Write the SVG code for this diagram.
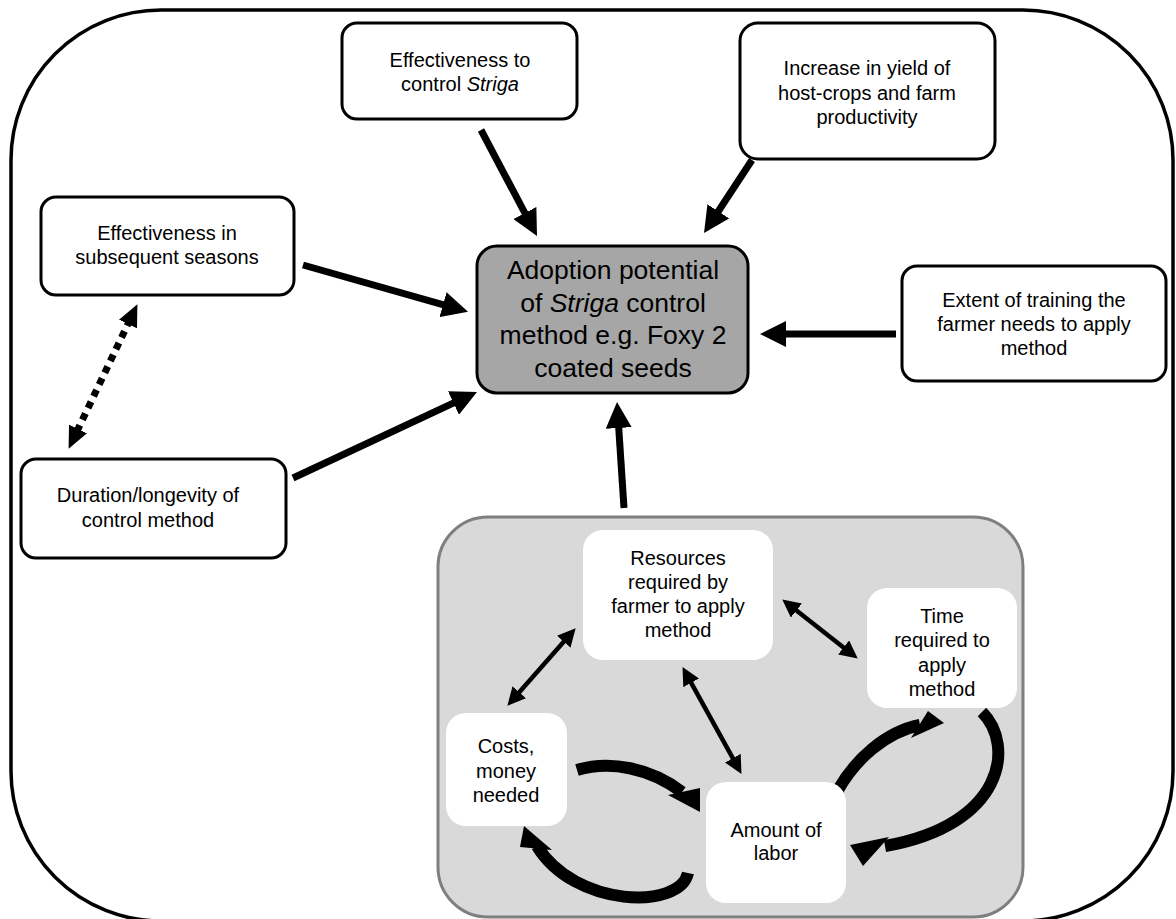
<svg xmlns="http://www.w3.org/2000/svg" width="1176" height="919" viewBox="0 0 1176 919">
<defs>
<marker id="ah" viewBox="0 0 26 26" markerWidth="26" markerHeight="26" refX="8" refY="13" orient="auto-start-reverse" markerUnits="userSpaceOnUse"><path d="M0,0 L26,13 L0,26 z" fill="#000"/></marker>
<marker id="ad" viewBox="0 0 22 20" markerWidth="22" markerHeight="20" refX="5" refY="10" orient="auto-start-reverse" markerUnits="userSpaceOnUse"><path d="M0,0 L22,10 L0,20 z" fill="#000"/></marker>
<marker id="as" viewBox="0 0 18 18" markerWidth="18" markerHeight="18" refX="6" refY="9" orient="auto-start-reverse" markerUnits="userSpaceOnUse"><path d="M0,0 L18,9 L0,18 z" fill="#000"/></marker>
<style>
.box{fill:#fff;stroke:#000;stroke-width:3}
.ibox{fill:#fff;stroke:none}
.t{font-family:"Liberation Sans",Arial,sans-serif;font-size:20px;fill:#000;text-anchor:middle}
.tc{font-family:"Liberation Sans",Arial,sans-serif;font-size:26.5px;fill:#000;text-anchor:middle}
.main{stroke:#000;stroke-width:7;fill:none;marker-end:url(#ah)}
.dual{stroke:#000;stroke-width:4.5;fill:none;marker-start:url(#as);marker-end:url(#as)}
.curve{stroke:#000;stroke-width:12;fill:none}
</style>
</defs>
<rect id="frame" x="11" y="10" width="1162" height="911" rx="150" fill="#fff" stroke="#000" stroke-width="3.5"/>
<rect id="panel" x="438" y="517" width="585" height="400" rx="50" fill="#d9d9d9" stroke="#7f7f7f" stroke-width="3"/>
<g id="connectors">
<line class="main" x1="481" y1="130" x2="528.6" y2="220.1"/>
<line class="main" x1="752" y1="160" x2="713.9" y2="218"/>
<line class="main" x1="303" y1="265" x2="450.7" y2="306.9"/>
<line class="main" x1="293" y1="478" x2="460.7" y2="399.6"/>
<line class="main" x1="896" y1="334" x2="778" y2="334"/>
<line class="main" x1="624" y1="508" x2="618.2" y2="420"/>
<line x1="130.1" y1="319.5" x2="75.9" y2="433.5" stroke="#000" stroke-width="7" stroke-dasharray="7 6" fill="none" marker-start="url(#ad)" marker-end="url(#ad)"/>
<line class="dual" x1="567.7" y1="637.3" x2="515.3" y2="696.7"/>
<line class="dual" x1="688.3" y1="677.6" x2="735.7" y2="763.4"/>
<line class="dual" x1="791.7" y1="606.8" x2="848.3" y2="651.2"/>
<path class="curve" d="M577,770 C610,760 650,768 682,792"/>
<polygon points="668,795 700,788 700,812" fill="#000"/>
<path class="curve" d="M688,873 C680,910 575,908 537,846"/>
<polygon points="524,826 520,847 552,850" fill="#000"/>
<path class="curve" d="M838,790 C855,760 885,732 920,725"/>
<polygon points="928,711 944,723 911,738" fill="#000"/>
<path class="curve" d="M982,712 C1015,745 1005,825 885,846"/>
<polygon points="850,845 889,837 863,866" fill="#000"/>
</g>
<g id="n-control">
<rect class="box" x="342" y="23" width="235" height="96" rx="15"/>
<text class="t" x="460" y="67">Effectiveness to</text>
<text class="t" x="460" y="91">control <tspan font-style="italic">Striga</tspan></text>
</g>
<g id="n-yield">
<rect class="box" x="740" y="23" width="255" height="136" rx="18"/>
<text class="t" x="867" y="75">Increase in yield of</text>
<text class="t" x="867" y="100">host-crops and farm</text>
<text class="t" x="867" y="124">productivity</text>
</g>
<g id="n-seasons">
<rect class="box" x="41" y="197" width="253" height="98" rx="15"/>
<text class="t" x="167" y="240">Effectiveness in</text>
<text class="t" x="167" y="264">subsequent seasons</text>
</g>
<g id="n-training">
<rect class="box" x="902" y="266" width="264" height="115" rx="15"/>
<text class="t" x="1034" y="307">Extent of training the</text>
<text class="t" x="1034" y="331">farmer needs to apply</text>
<text class="t" x="1034" y="355">method</text>
</g>
<g id="n-duration">
<rect class="box" x="21" y="459" width="265" height="99" rx="15"/>
<text class="t" x="148" y="502">Duration/longevity of</text>
<text class="t" x="148" y="527">control method</text>
</g>
<g id="n-center">
<rect x="477" y="246" width="271" height="147" rx="20" fill="#a6a6a6" stroke="#000" stroke-width="3"/>
<text class="tc" x="613" y="279">Adoption potential</text>
<text class="tc" x="613" y="312">of <tspan font-style="italic">Striga</tspan> control</text>
<text class="tc" x="613" y="344">method e.g. Foxy 2</text>
<text class="tc" x="613" y="377">coated seeds</text>
</g>
<g id="n-resources">
<rect class="ibox" x="583" y="530" width="190" height="130" rx="20"/>
<text class="t" x="678" y="565">Resources</text>
<text class="t" x="678" y="589">required by</text>
<text class="t" x="678" y="613">farmer to apply</text>
<text class="t" x="678" y="637">method</text>
</g>
<g id="n-time">
<rect class="ibox" x="867" y="588" width="150" height="120" rx="20"/>
<text class="t" x="942" y="623">Time</text>
<text class="t" x="942" y="647">required to</text>
<text class="t" x="942" y="672">apply</text>
<text class="t" x="942" y="696">method</text>
</g>
<g id="n-costs">
<rect class="ibox" x="446" y="713" width="121" height="113" rx="20"/>
<text class="t" x="506" y="753">Costs,</text>
<text class="t" x="506" y="778">money</text>
<text class="t" x="506" y="802">needed</text>
</g>
<g id="n-labor">
<rect class="ibox" x="706" y="782" width="140" height="121" rx="20"/>
<text class="t" x="776" y="837">Amount of</text>
<text class="t" x="776" y="860">labor</text>
</g>
</svg>
